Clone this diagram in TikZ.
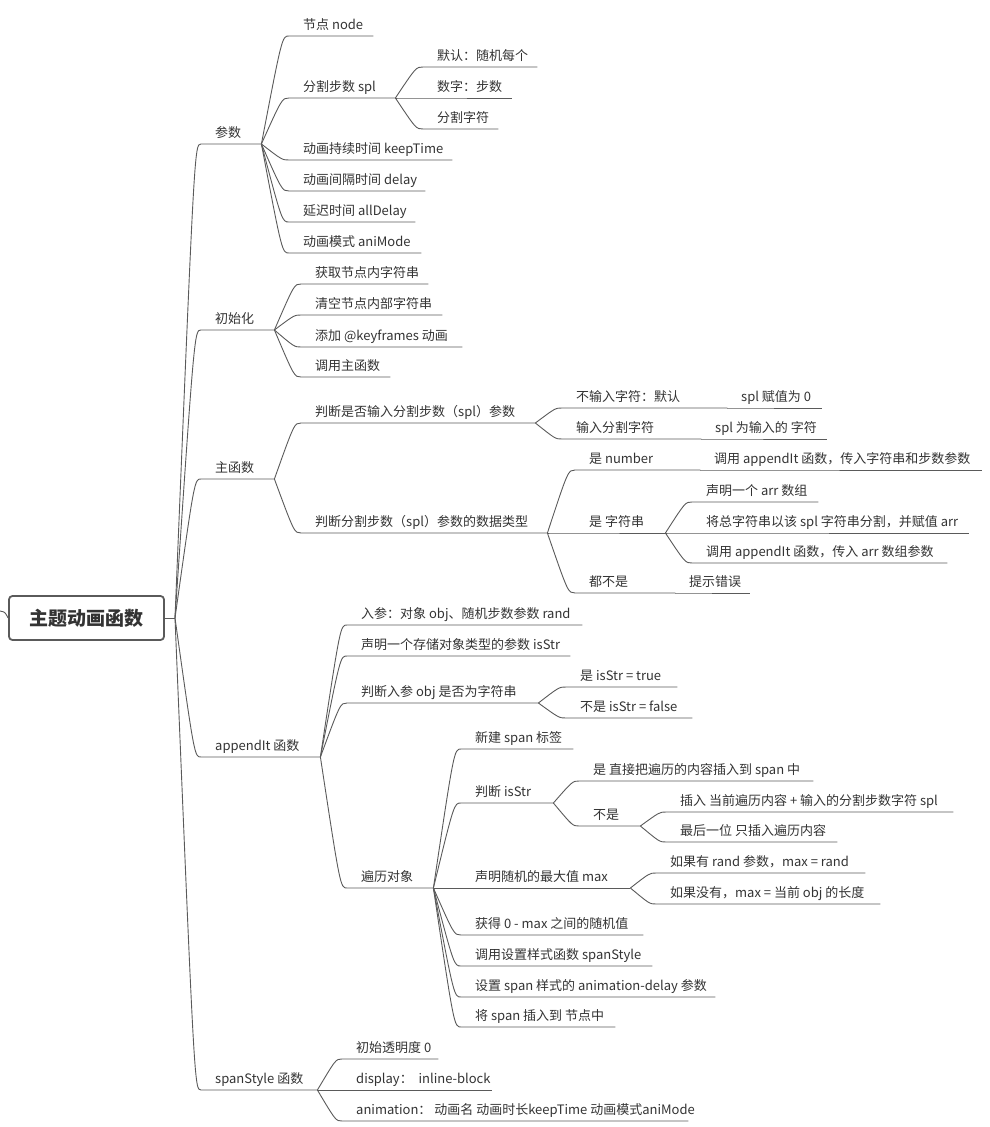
\documentclass[tikz,border=0pt]{standalone}
\usepackage{fontspec}
\setmainfont{Noto Sans CJK SC}
\usetikzlibrary{calc}
\definecolor{linec}{HTML}{5A5A5A}
\definecolor{textc}{HTML}{333333}
\tikzset{
  conn/.style={draw=linec, line width=0.9pt},
  topic/.style={anchor=south west, inner xsep=0pt, inner ysep=6pt, text height=10pt, text depth=0pt, text=textc, font=\fontsize{13}{15}\selectfont},
  rootbox/.style={draw=linec, line width=1.8pt, rounded corners=3.5pt, fill=white, minimum width=155pt, minimum height=44pt, inner sep=0pt, font=\fontsize{19}{22}\selectfont\bfseries, text=textc}
}
\newcommand\topic[5]{\pgfmathsetmacro\tw{#4-#2+14}\node[topic] (#1) at ({#2-14},#3) {\makebox[\tw pt][l]{\hskip14pt #5}};}
\newcommand\link[2]{\draw[conn] let \p1=(#1), \p2=(#2.south west) in (\p1) .. controls ({\x1+0.75*(\x2-\x1)},\y2) .. (\p2) -- (#2.south east);}
\begin{document}
\begin{tikzpicture}[x=1pt,y=-1pt]
\useasboundingbox (0,0) rectangle (990,1127);
% root
\node[rootbox] (root) at (86.5,618) {主题动画函数};
\coordinate (rj) at (175,618);
\coordinate (offl) at (0,611);
\draw[conn] (offl) .. controls (5,612) .. (root.west);
\draw[conn] (root.east) -- (rj);
% level 1
\topic{P}{215}{144}{261}{参数}
\topic{I}{215}{330}{274}{初始化}
\topic{M}{215}{479}{274}{主函数}
\topic{A}{215}{757}{320}{appendIt 函数}
\topic{S}{215}{1090}{317}{spanStyle 函数}
% 参数
\topic{P1}{303}{36}{373}{节点 node}
\topic{P2}{303}{98}{395}{分割步数 spl}
\topic{P21}{437}{67}{537}{默认：随机每个}
\topic{P22}{437}{98}{512}{数字：步数}
\topic{P23}{437}{129}{498}{分割字符}
\topic{P3}{303}{160}{452}{动画持续时间 keepTime}
\topic{P4}{303}{191}{425}{动画间隔时间 delay}
\topic{P5}{303}{222}{415}{延迟时间 allDelay}
\topic{P6}{303}{253}{421}{动画模式 aniMode}
% 初始化
\topic{I1}{315}{284}{428}{获取节点内字符串}
\topic{I2}{315}{315}{442}{清空节点内部字符串}
\topic{I3}{315}{347}{462}{添加 @keyframes 动画}
\topic{I4}{315}{377}{390}{调用主函数}
% 主函数
\topic{M1}{315}{423}{535}{判断是否输入分割步数（spl）参数}
\topic{M11}{576}{408}{727}{不输入字符：默认}
\topic{M111}{741}{408}{822}{spl 赋值为 0}
\topic{M12}{576}{439}{701}{输入分割字符}
\topic{M121}{715}{439}{827}{spl 为输入的 字符}
\topic{M2}{315}{533}{547}{判断分割步数（spl）参数的数据类型}
\topic{M21}{589}{470}{700}{是 number}
\topic{M211}{714}{470}{982}{调用 appendIt 函数，传入字符串和步数参数}
\topic{M22}{589}{533}{665}{是 字符串}
\topic{M221}{706}{502}{818}{声明一个 arr 数组}
\topic{M222}{706}{533}{969}{将总字符串以该 spl 字符串分割，并赋值 arr}
\topic{M223}{706}{563}{947}{调用 appendIt 函数，传入 arr 数组参数}
\topic{M23}{589}{593}{675}{都不是}
\topic{M231}{689}{593}{750}{提示错误}
% appendIt
\topic{A1}{361}{625}{582}{入参：对象 obj、随机步数参数 rand}
\topic{A2}{361}{656}{570}{声明一个存储对象类型的参数 isStr}
\topic{A3}{361}{703}{538}{判断入参 obj 是否为字符串}
\topic{A31}{580}{687}{677}{是 isStr = true}
\topic{A32}{580}{718}{692}{不是 isStr = false}
\topic{A4}{361}{888}{433}{遍历对象}
\topic{A41}{475}{749}{573}{新建 span 标签}
\topic{A42}{475}{803}{553}{判断 isStr}
\topic{A421}{593}{781}{813}{是 直接把遍历的内容插入到 span 中}
\topic{A422}{593}{826}{640}{不是}
\topic{A4221}{680}{812}{953}{插入 当前遍历内容 + 输入的分割步数字符 spl}
\topic{A4222}{680}{842}{837}{最后一位 只插入遍历内容}
\topic{A43}{475}{888}{630}{声明随机的最大值 max}
\topic{A431}{670}{873}{865}{如果有 rand 参数，max = rand}
\topic{A432}{670}{904}{880}{如果没有，max = 当前 obj 的长度}
\topic{A44}{475}{935}{643}{获得 0 - max 之间的随机值}
\topic{A45}{475}{966}{652}{调用设置样式函数 spanStyle}
\topic{A46}{475}{997}{715}{设置 span 样式的 animation-delay 参数}
\topic{A47}{475}{1027}{615}{将 span 插入到 节点中}
% spanStyle
\topic{S1}{356}{1059}{438}{初始透明度 0}
\topic{S2}{356}{1090}{492}{display：\ \ inline-block}
\topic{S3}{356}{1121}{688}{animation： 动画名 动画时长keepTime 动画模式aniMode}
% connectors
\foreach \c in {P,I,M,A,S} {\link{rj}{\c}}
\foreach \c in {P1,P2,P3,P4,P5,P6} {\link{P.south east}{\c}}
\foreach \c in {P21,P22,P23} {\link{P2.south east}{\c}}
\foreach \c in {I1,I2,I3,I4} {\link{I.south east}{\c}}
\foreach \c in {M1,M2} {\link{M.south east}{\c}}
\foreach \c in {M11,M12} {\link{M1.south east}{\c}}
\link{M11.south east}{M111}
\link{M12.south east}{M121}
\foreach \c in {M21,M22,M23} {\link{M2.south east}{\c}}
\link{M21.south east}{M211}
\foreach \c in {M221,M222,M223} {\link{M22.south east}{\c}}
\link{M23.south east}{M231}
\foreach \c in {A1,A2,A3,A4} {\link{A.south east}{\c}}
\foreach \c in {A31,A32} {\link{A3.south east}{\c}}
\foreach \c in {A41,A42,A43,A44,A45,A46,A47} {\link{A4.south east}{\c}}
\foreach \c in {A421,A422} {\link{A42.south east}{\c}}
\foreach \c in {A4221,A4222} {\link{A422.south east}{\c}}
\foreach \c in {A431,A432} {\link{A43.south east}{\c}}
\foreach \c in {S1,S2,S3} {\link{S.south east}{\c}}
\end{tikzpicture}
\end{document}
